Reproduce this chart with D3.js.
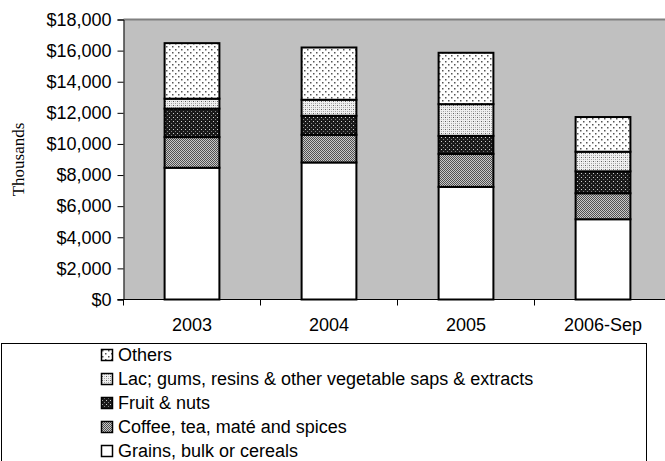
<!DOCTYPE html>
<html><head><meta charset="utf-8">
<script src="https://cdn.jsdelivr.net/npm/d3@7"></script>
<style>html,body{margin:0;padding:0;background:#fff;}svg{display:block;}</style>
</head><body>
<svg id="chart" width="665" height="461"></svg>
<script>
const categories = ["2003", "2004", "2005", "2006-Sep"];
const seriesNames = ["Grains, bulk or cereals", "Coffee, tea, maté and spices", "Fruit & nuts", "Lac; gums, resins & other vegetable saps & extracts", "Others"];
const grains = [8470, 8810, 7240, 5160];
const coffee = [1970, 1780, 2120, 1670];
const fruit = [1830, 1220, 1160, 1410];
const lac = [640, 1030, 2040, 1260];
const others = [3570, 3360, 3300, 2230];
const yTicks = [0, 2000, 4000, 6000, 8000, 10000, 12000, 14000, 16000, 18000];
const yTitle = "Thousands";

const svg = d3.select("#chart");
const W = 665, H = 461;
const pLeft = 123.5, pTop = 19.5, pBottom = 299.5, pRight = 671.5;
const patIds = ["pGrains", "pCoffee", "pFruit", "pLac", "pOthers"];

const defs = svg.append("defs");
let p = defs.append("pattern").attr("id", "pCoffee").attr("patternUnits", "userSpaceOnUse").attr("width", 2).attr("height", 2);
p.append("rect").attr("width", 2).attr("height", 2).attr("fill", "#c8c8c8");
p.append("rect").attr("width", 1).attr("height", 1).attr("fill", "#505050");
p.append("rect").attr("x", 1).attr("y", 1).attr("width", 1).attr("height", 1).attr("fill", "#505050");
p = defs.append("pattern").attr("id", "pFruit").attr("patternUnits", "userSpaceOnUse").attr("width", 4).attr("height", 4);
p.append("rect").attr("width", 4).attr("height", 4).attr("fill", "#1a1a1a");
p.append("rect").attr("x", 1).attr("y", 1).attr("width", 1).attr("height", 1).attr("fill", "#d0d0d0");
p.append("rect").attr("x", 3).attr("y", 3).attr("width", 1).attr("height", 1).attr("fill", "#808080");
p = defs.append("pattern").attr("id", "pLac").attr("patternUnits", "userSpaceOnUse").attr("width", 4).attr("height", 4);
p.append("rect").attr("width", 4).attr("height", 4).attr("fill", "#f0f0f0");
p.append("rect").attr("x", 1).attr("y", 1).attr("width", 1).attr("height", 1).attr("fill", "#606060");
p.append("rect").attr("x", 3).attr("y", 3).attr("width", 1).attr("height", 1).attr("fill", "#a0a0a0");
p.append("rect").attr("x", 1).attr("y", 3).attr("width", 1).attr("height", 1).attr("fill", "#b8b8b8");
p.append("rect").attr("x", 3).attr("y", 1).attr("width", 1).attr("height", 1).attr("fill", "#b8b8b8");
p = defs.append("pattern").attr("id", "pOthers").attr("patternUnits", "userSpaceOnUse").attr("width", 6).attr("height", 6);
p.append("rect").attr("width", 6).attr("height", 6).attr("fill", "#fff");
p.append("rect").attr("x", 1).attr("y", 1).attr("width", 1.5).attr("height", 1.5).attr("fill", "#555");
p.append("rect").attr("x", 4).attr("y", 4).attr("width", 1.5).attr("height", 1.5).attr("fill", "#555");
p = defs.append("pattern").attr("id", "pGrains").attr("patternUnits", "userSpaceOnUse").attr("width", 4).attr("height", 4);
p.append("rect").attr("width", 4).attr("height", 4).attr("fill", "#fff");

const y = d3.scaleLinear().domain([0, 18000]).range([pBottom, pTop]);
const x = d3.scaleBand().domain(categories).range([pLeft, pRight]).padding(0);

svg.append("rect").attr("x", pLeft).attr("y", pTop).attr("width", pRight - pLeft).attr("height", pBottom - pTop).attr("fill", "#c0c0c0");
svg.append("line").attr("x1", pLeft).attr("x2", W).attr("y1", pTop).attr("y2", pTop).attr("stroke", "#808080").attr("stroke-width", 2);

const rows = categories.map((c, i) => ({ cat: c, grains: grains[i], coffee: coffee[i], fruit: fruit[i], lac: lac[i], others: others[i] }));
const keys = ["grains", "coffee", "fruit", "lac", "others"];
const stacked = d3.stack().keys(keys)(rows);
const bw = x.bandwidth() * 0.4;
const off = x.bandwidth() * 0.3;
stacked.forEach((s, si) => {
  svg.append("g").selectAll("rect").data(s).join("rect")
    .attr("x", d => x(d.data.cat) + off)
    .attr("width", bw)
    .attr("y", d => y(d[1]))
    .attr("height", d => y(d[0]) - y(d[1]))
    .attr("fill", `url(#${patIds[si]})`)
    .attr("stroke", "#000").attr("stroke-width", 2);
});

const yAxis = d3.axisLeft(y).tickValues(yTicks).tickSize(6).tickPadding(6)
  .tickFormat(d => "$" + d3.format(",")(d));
const gy = svg.append("g").attr("transform", `translate(${pLeft},0)`).call(yAxis);
gy.select(".domain").attr("stroke", "#000");
gy.selectAll("text").attr("font-family", "'Liberation Sans', Arial, sans-serif").attr("font-size", 18).attr("fill", "#000");

const gx = svg.append("g").attr("transform", `translate(0,${pBottom})`)
  .call(d3.axisBottom(x).tickSize(0).tickPadding(15));
gx.select(".domain").remove();
gx.selectAll("text").attr("font-family", "'Liberation Sans', Arial, sans-serif").attr("font-size", 18).attr("fill", "#000").attr("dy", "0.9em");
const bounds = categories.map(c => x(c)).concat([x(categories[categories.length - 1]) + x.bandwidth()]);
svg.append("line").attr("x1", pLeft - 6).attr("x2", W).attr("y1", pBottom).attr("y2", pBottom).attr("stroke", "#000");
svg.append("g").selectAll("line").data(bounds).join("line")
  .attr("x1", d => d).attr("x2", d => d).attr("y1", pBottom).attr("y2", pBottom + 6).attr("stroke", "#000");

svg.append("text").attr("transform", `translate(24,${(pTop + pBottom) / 2}) rotate(-90)`)
  .attr("text-anchor", "middle").attr("font-family", "'Liberation Serif', 'Times New Roman', serif")
  .attr("font-size", 17).text(yTitle);

svg.append("rect").attr("x", 1.5).attr("y", 343.5).attr("width", 645).attr("height", 130).attr("fill", "#fff").attr("stroke", "#000");
const legendOrder = [4, 3, 2, 1, 0];
const lg = svg.append("g").selectAll("g").data(legendOrder).join("g")
  .attr("transform", (d, i) => `translate(101,${355 + i * 24})`);
lg.append("rect").attr("x", 0.5).attr("y", -5.5).attr("width", 11).attr("height", 11)
  .attr("fill", d => `url(#${patIds[d]})`).attr("stroke", "#000").attr("stroke-width", 1.5);
lg.append("text").attr("x", 17).attr("y", 0).attr("dy", "0.35em")
  .attr("font-family", "'Liberation Sans', Arial, sans-serif").attr("font-size", 18)
  .text(d => seriesNames[d]);
</script>
</body></html>
